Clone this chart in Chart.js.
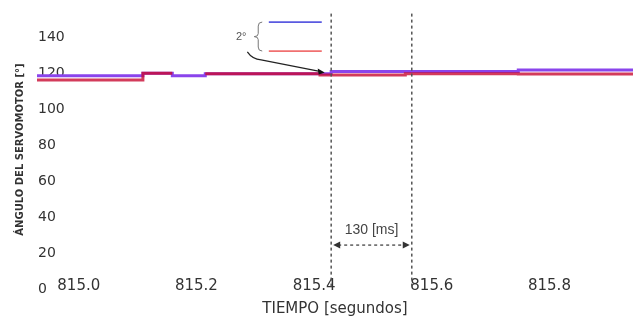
<!DOCTYPE html>
<html>
<head>
<meta charset="utf-8">
<script src="https://cdn.jsdelivr.net/npm/chart.js@4"></script>
<style>
  html, body { margin: 0; padding: 0; background: #fff; }
  #wrap { width: 633px; height: 321px; }
</style>
</head>
<body>
<div id="wrap"><canvas id="servoChart"></canvas></div>
<script>
// tiempo [s] y angulo [grados]
const blueTimes = [814.929, 815.109, 815.159, 815.215, 815.429, 815.747, 815.942];
const blueAngles = [118.5, 119.8, 118.5, 119.6, 120.9, 121.7, 121.7];
const redTimes = [814.929, 815.109, 815.159, 815.16, 815.215, 815.41, 815.555, 815.747, 815.942];
const redAngles = [116.1, 119.8, 119.8, null, 119.6, 118.9, 119.6, 119.4, 119.4];
const xTicks = [815.0, 815.2, 815.4, 815.6, 815.8];
const yTicks = [0, 20, 40, 60, 80, 100, 120, 140];
const markerTimes = [815.429, 815.566];
const delayLabel = '130 [ms]';
const diffLabel = '2°';

const toPoints = (xs, ys) => xs.map((x, i) => ({ x: x, y: ys[i] }));

function arrowHead(ctx, x, y, dir, size) {
    ctx.beginPath();
    ctx.moveTo(x, y);
    ctx.lineTo(x - dir * size, y - size / 2);
    ctx.lineTo(x - dir * size, y + size / 2);
    ctx.closePath();
    ctx.fill();
}

const annotations = {
    id: 'annotations',
    afterDatasetsDraw(chart) {
        const ctx = chart.ctx;
        const xs = chart.scales.x;
        const ys = chart.scales.y;
        const X = v => xs.getPixelForValue(v);
        const Y = v => ys.getPixelForValue(v);
        ctx.save();

        // lineas verticales punteadas
        ctx.strokeStyle = '#555';
        ctx.lineWidth = 1.5;
        ctx.setLineDash([3, 3]);
        markerTimes.forEach(t => {
            ctx.beginPath();
            ctx.moveTo(X(t), Y(153));
            ctx.lineTo(X(t), Y(0));
            ctx.stroke();
        });

        // flecha doble 130 ms
        const ay = Y(24.4);
        const x1 = X(markerTimes[0]) + 2, x2 = X(markerTimes[1]) - 2;
        ctx.lineWidth = 1.3;
        ctx.strokeStyle = '#444';
        ctx.beginPath();
        ctx.moveTo(x1 + 5, ay);
        ctx.lineTo(x2 - 5, ay);
        ctx.stroke();
        ctx.setLineDash([]);
        ctx.fillStyle = '#333';
        arrowHead(ctx, x1, ay, -1, 7);
        arrowHead(ctx, x2, ay, 1, 7);

        ctx.font = '14px "Liberation Sans", Arial, sans-serif';
        ctx.fillStyle = '#444';
        ctx.textAlign = 'center';
        ctx.textBaseline = 'middle';
        ctx.fillText(delayLabel, (x1 + x2) / 2, Y(32.5));

        // muestras de leyenda con llave
        const lx1 = X(815.323), lx2 = X(815.413);
        ctx.lineWidth = 1.8;
        ctx.strokeStyle = '#5a5ae0';
        ctx.beginPath(); ctx.moveTo(lx1, Y(148.3)); ctx.lineTo(lx2, Y(148.3)); ctx.stroke();
        ctx.strokeStyle = '#f07070';
        ctx.beginPath(); ctx.moveTo(lx1, Y(132.2)); ctx.lineTo(lx2, Y(132.2)); ctx.stroke();

        const bx = X(815.305), bt = Y(148.3), bb = Y(132.2), bm = Y(140.2);
        ctx.strokeStyle = '#777';
        ctx.lineWidth = 1;
        ctx.beginPath();
        ctx.moveTo(bx + 4, bt);
        ctx.quadraticCurveTo(bx, bt, bx, bt + 4);
        ctx.lineTo(bx, bm - 3);
        ctx.quadraticCurveTo(bx, bm, bx - 4, bm);
        ctx.quadraticCurveTo(bx, bm, bx, bm + 3);
        ctx.lineTo(bx, bb - 4);
        ctx.quadraticCurveTo(bx, bb, bx + 4, bb);
        ctx.stroke();

        ctx.font = '11px "Liberation Sans", Arial, sans-serif';
        ctx.fillStyle = '#555';
        ctx.fillText(diffLabel, X(815.276), bm);

        // flecha curva hacia las lineas
        const sx = X(815.2865), sy = Y(131.7);
        const ex = X(815.418), ey = Y(120.3);
        ctx.strokeStyle = '#222';
        ctx.lineWidth = 1.2;
        ctx.beginPath();
        ctx.moveTo(sx, sy);
        ctx.quadraticCurveTo(X(815.295), Y(127.6), X(815.31), Y(127.3));
        ctx.lineTo(ex - 5, ey - 1);
        ctx.stroke();
        ctx.fillStyle = '#111';
        ctx.beginPath();
        ctx.moveTo(ex, ey);
        ctx.lineTo(ex - 7, ey - 4);
        ctx.lineTo(ex - 6, ey + 2);
        ctx.closePath();
        ctx.fill();

        ctx.restore();
    }
};

new Chart(document.getElementById('servoChart'), {
    type: 'line',
    data: {
        datasets: [{
            data: toPoints(blueTimes, blueAngles),
            borderColor: '#8a44ec',
            borderWidth: 3,
            pointRadius: 0,
            stepped: 'before',
            order: 1,
            fill: false
        }, {
            data: toPoints(redTimes, redAngles),
            borderColor: 'rgba(200, 10, 50, 0.8)',
            borderWidth: 3,
            pointRadius: 0,
            stepped: 'before',
            spanGaps: false,
            order: 0,
            fill: false
        }]
    },
    options: {
        responsive: true,
        maintainAspectRatio: false,
        animation: false,
        layout: { padding: { top: 10, right: 0, bottom: 0, left: 0 } },
        plugins: {
            legend: { display: false },
            tooltip: { enabled: false }
        },
        scales: {
            x: {
                type: 'linear',
                min: 814.929,
                max: 815.942,
                afterBuildTicks: scale => { scale.ticks = xTicks.map(v => ({ value: v })); },
                grid: { display: false, drawTicks: false },
                border: { display: false },
                ticks: {
                    mirror: true,
                    padding: -6.5,
                    maxRotation: 0,
                    color: '#333',
                    font: { family: '"DejaVu Sans", Verdana, sans-serif', size: 15 },
                    callback: v => v.toFixed(1)
                },
                title: {
                    display: true,
                    text: 'TIEMPO [segundos]',
                    color: '#333',
                    font: { family: '"DejaVu Sans", Verdana, sans-serif', size: 15 },
                    padding: { top: 24, bottom: 3 }
                }
            },
            y: {
                min: 0,
                max: 155,
                afterBuildTicks: scale => { scale.ticks = yTicks.map(v => ({ value: v })); },
                grid: { display: false, drawTicks: false },
                border: { display: false },
                ticks: {
                    mirror: true,
                    padding: 1,
                    color: '#333',
                    font: { family: '"DejaVu Sans", Verdana, sans-serif', size: 14 }
                },
                title: {
                    display: true,
                    text: 'ÁNGULO DEL SERVOMOTOR [°]',
                    color: '#333',
                    font: { family: '"DejaVu Sans", Verdana, sans-serif', size: 10, weight: 'bold' },
                    padding: { top: 14, bottom: 9 }
                }
            }
        }
    },
    plugins: [annotations]
});
</script>
</body>
</html>
